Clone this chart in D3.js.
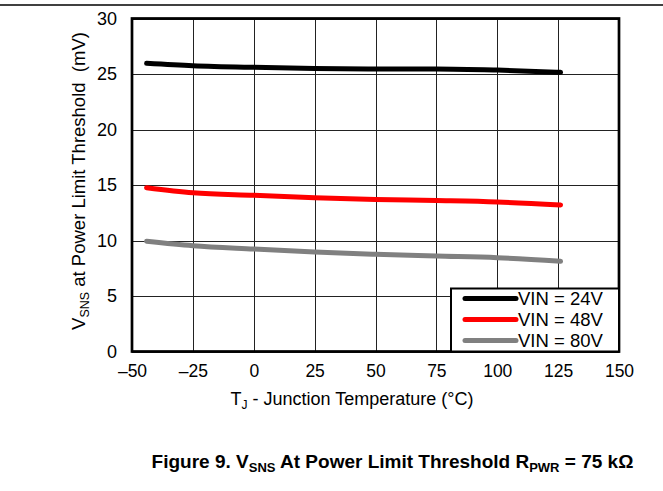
<!DOCTYPE html>
<html><head><meta charset="utf-8">
<script src="https://cdn.jsdelivr.net/npm/d3@7"></script>
<style>body{margin:0;background:#fff}svg{display:block}text{font-family:Arial,"Liberation Sans",sans-serif}</style>
</head><body>
<svg id="c" width="663" height="491"></svg>
<script>
const temps = [-44, -25, 0, 25, 50, 75, 100, 126];
const vin24 = [25.96, 25.75, 25.6, 25.5, 25.45, 25.45, 25.35, 25.15];
const vin48 = [14.76, 14.3, 14.07, 13.86, 13.7, 13.6, 13.47, 13.2];
const vin80 = [9.93, 9.53, 9.23, 8.96, 8.76, 8.6, 8.45, 8.13];
const seriesNames = ["VIN = 24V", "VIN = 48V", "VIN = 80V"];
const seriesColors = ["#000000", "#ff0000", "#808080"];
const xTicks = [-50, -25, 0, 25, 50, 75, 100, 125, 150];
const yTicks = [0, 5, 10, 15, 20, 25, 30];

const svg = d3.select("#c");
const L = 132, R = 619, T = 18.5, B = 351.5;
const x = d3.scaleLinear().domain([-50, 150]).range([L, R]);
const y = d3.scaleLinear().domain([0, 30]).range([B, T]);
const FF = "Arial, 'Liberation Sans', sans-serif";

// top rule
svg.append("line").attr("x1", 0).attr("x2", 663).attr("y1", 5).attr("y2", 5)
  .attr("stroke", "#000").attr("stroke-width", 1.5);

// grid
const g = svg.append("g");
g.selectAll(".vx").data(xTicks).join("line")
  .attr("x1", d => Math.round(x(d)) + 0.5).attr("x2", d => Math.round(x(d)) + 0.5)
  .attr("y1", T).attr("y2", B).attr("stroke", "#222").attr("stroke-width", 1);
g.selectAll(".hy").data(yTicks).join("line")
  .attr("y1", d => Math.round(y(d)) + 0.5).attr("y2", d => Math.round(y(d)) + 0.5)
  .attr("x1", L).attr("x2", R).attr("stroke", "#222").attr("stroke-width", 1);

// axes labels via d3 axes
const xAxis = svg.append("g").attr("transform", `translate(0,${B})`)
  .call(d3.axisBottom(x).tickValues(xTicks).tickSize(0).tickPadding(13)
    .tickFormat(d => d < 0 ? "\u2013" + Math.abs(d) : d));
xAxis.select(".domain").remove();
xAxis.selectAll("text").attr("font-size", 17.5).attr("fill", "#000").style("font-family", FF);

const yAxis = svg.append("g").attr("transform", `translate(${L},0)`)
  .call(d3.axisLeft(y).tickValues(yTicks).tickSize(0).tickPadding(15));
yAxis.select(".domain").remove();
yAxis.selectAll("text").attr("font-size", 18).attr("fill", "#000").style("font-family", FF);

// plot border
svg.append("rect").attr("x", L).attr("y", T).attr("width", R - L).attr("height", B - T)
  .attr("fill", "none").attr("stroke", "#000").attr("stroke-width", 2.7);

// lines
const line = d3.line().x(d => x(d[0])).y(d => y(d[1])).curve(d3.curveMonotoneX);
[vin24, vin48, vin80].forEach((vals, i) => {
  svg.append("path").datum(temps.map((t, j) => [t, vals[j]]))
    .attr("d", line).attr("fill", "none").attr("stroke", seriesColors[i])
    .attr("stroke-width", 5).attr("stroke-linecap", "round").attr("stroke-linejoin", "round");
});

// legend
const lg = svg.append("g");
lg.append("rect").attr("x", 451).attr("y", 288.5).attr("width", R - 451).attr("height", B - 288.5)
  .attr("fill", "#fff").attr("stroke", "#000").attr("stroke-width", 2);
seriesNames.forEach((n, i) => {
  const yy = 298.5 + i * 21;
  lg.append("line").attr("x1", 465).attr("x2", 516).attr("y1", yy).attr("y2", yy)
    .attr("stroke", seriesColors[i]).attr("stroke-width", 5).attr("stroke-linecap", "round");
  lg.append("text").attr("x", 518).attr("y", yy + 6.5).attr("font-size", 18.5).text(n);
});

// axis titles
const xt = svg.append("text").attr("x", 352).attr("y", 405).attr("text-anchor", "middle").attr("font-size", 18);
xt.append("tspan").text("T");
xt.append("tspan").attr("font-size", 12).attr("dy", 4).text("J");
xt.append("tspan").attr("dy", -4).text(" - Junction Temperature (°C)");

const yt = svg.append("text").attr("transform", "translate(85,181) rotate(-90)")
  .attr("text-anchor", "middle").attr("font-size", 18.5).style("white-space", "pre");
yt.append("tspan").text("V");
yt.append("tspan").attr("font-size", 12.5).attr("dy", 4).text("SNS");
yt.append("tspan").attr("dy", -4).text(" at Power Limit Threshold  (mV)");

// caption
const cap = svg.append("text").attr("x", 392.5).attr("y", 468).attr("text-anchor", "middle")
  .attr("font-size", 19).attr("font-weight", "bold");
cap.append("tspan").text("Figure 9. V");
cap.append("tspan").attr("font-size", 13).attr("dy", 4).text("SNS");
cap.append("tspan").attr("dy", -4).text(" At Power Limit Threshold R");
cap.append("tspan").attr("font-size", 13).attr("dy", 4).text("PWR");
cap.append("tspan").attr("dy", -4).text(" = 75 k\u03A9");
</script>
</body></html>
